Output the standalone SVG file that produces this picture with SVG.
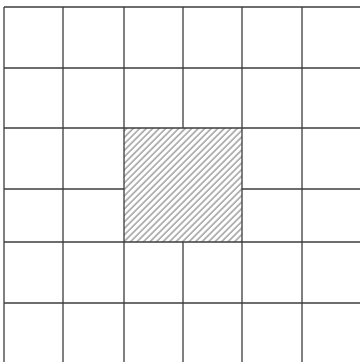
<svg xmlns="http://www.w3.org/2000/svg" width="360" height="362" viewBox="0 0 360 362">
  <style>
    .grid { stroke: #3c3c3c; stroke-width: 1.3; fill: none; }
    .hatchline { stroke: #6e6e6e; stroke-width: 1; }
  </style>
  <defs>
    <pattern id="hatch" patternUnits="userSpaceOnUse" width="4.6" height="10" patternTransform="rotate(45)">
      <line class="hatchline" x1="1" y1="0" x2="1" y2="10"/>
    </pattern>
  </defs>
  <rect width="360" height="362" fill="#ffffff"/>
  <g id="hatched-area">
    <rect x="124" y="128" width="118" height="114" fill="url(#hatch)"/>
  </g>
  <g id="grid" class="grid">
    <line x1="4" y1="7" x2="360" y2="7"/>
    <line x1="4" y1="68" x2="360" y2="68"/>
    <line x1="4" y1="128" x2="360" y2="128"/>
    <line x1="4" y1="189" x2="124" y2="189"/>
    <line x1="242" y1="189" x2="360" y2="189"/>
    <line x1="4" y1="242" x2="360" y2="242"/>
    <line x1="4" y1="303" x2="360" y2="303"/>
    <line x1="4" y1="7" x2="4" y2="362"/>
    <line x1="63" y1="7" x2="63" y2="362"/>
    <line x1="124" y1="7" x2="124" y2="362"/>
    <line x1="183" y1="7" x2="183" y2="128"/>
    <line x1="183" y1="242" x2="183" y2="362"/>
    <line x1="242" y1="7" x2="242" y2="362"/>
    <line x1="302" y1="7" x2="302" y2="362"/>
  </g>
</svg>
